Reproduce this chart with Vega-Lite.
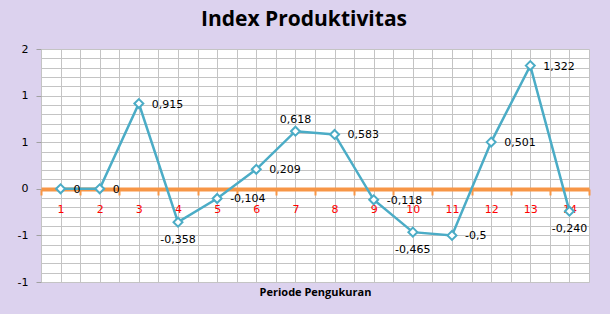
{
  "$schema": "https://vega.github.io/schema/vega-lite/v6.json",
  "width": 548,
  "height": 233,
  "autosize": "none",
  "padding": {"left": 41, "top": 49, "right": 21, "bottom": 32},
  "background": "#DCD2EE",
  "title": {
    "text": "Index Produktivitas",
    "font": "Open Sans",
    "fontSize": 21,
    "fontWeight": "bold",
    "color": "#000000",
    "anchor": "middle",
    "dx": -11,
    "offset": 13
  },
  "config": {
    "view": {"fill": "#FFFFFF", "stroke": null},
    "axis": {"gridColor": "#C4C4C4", "gridWidth": 1, "gridOpacity": 1}
  },
  "data": {
    "values": [
      {"periode": 1, "index": 0, "label": "0"},
      {"periode": 2, "index": 0, "label": "0"},
      {"periode": 3, "index": 0.915, "label": "0,915"},
      {"periode": 4, "index": -0.358, "label": "-0,358"},
      {"periode": 5, "index": -0.104, "label": "-0,104"},
      {"periode": 6, "index": 0.209, "label": "0,209"},
      {"periode": 7, "index": 0.618, "label": "0,618"},
      {"periode": 8, "index": 0.583, "label": "0,583"},
      {"periode": 9, "index": -0.118, "label": "-0,118"},
      {"periode": 10, "index": -0.465, "label": "-0,465"},
      {"periode": 11, "index": -0.5, "label": "-0,5"},
      {"periode": 12, "index": 0.501, "label": "0,501"},
      {"periode": 13, "index": 1.322, "label": "1,322"},
      {"periode": 14, "index": -0.24, "label": "-0,240"}
    ]
  },
  "resolve": {"axis": {"x": "independent", "y": "independent"}},
  "layer": [
    {
      "mark": {"type": "line", "color": "#4BACC6", "strokeWidth": 2.5},
      "encoding": {
        "x": {
          "field": "periode", "type": "quantitative",
          "scale": {"domain": [0.5, 14.5], "nice": false, "zero": false},
          "axis": {
            "orient": "bottom",
            "values": [1,2,3,4,5,6,7,8,9,10,11,12,13,14],
            "offset": -93,
            "grid": true,
            "domain": true, "domainColor": "#F79646", "domainWidth": 4,
            "ticks": false,
            "labelColor": "#FF0000", "labelFont": "DejaVu Sans", "labelFontSize": 11,
            "labelPadding": 14,
            "title": null
          }
        },
        "y": {
          "field": "index", "type": "quantitative",
          "scale": {"domain": [-1, 1.5], "nice": false, "zero": false},
          "axis": {
            "orient": "left",
            "values": [-1,-0.9,-0.8,-0.7,-0.6,-0.5,-0.4,-0.3,-0.2,-0.1,0,0.1,0.2,0.3,0.4,0.5,0.6,0.7,0.8,0.9,1,1.1,1.2,1.3,1.4,1.5],
            "grid": true,
            "domain": false,
            "tickColor": "#A0A0A0",
            "tickSize": 5,
            "tickOpacity": {"condition": {"test": "abs(datum.value*2 - round(datum.value*2)) < 0.001", "value": 1}, "value": 0},
            "labelExpr": "abs(datum.value*2 - round(datum.value*2)) < 0.001 ? (datum.value < -0.001 ? '-' : '') + toString(round(abs(datum.value))) : ''",
            "labelFont": "DejaVu Sans", "labelFontSize": 11, "labelColor": "#000000",
            "labelPadding": 8,
            "title": null
          }
        }
      }
    },
    {
      "mark": {"type": "point", "shape": "diamond", "filled": true, "fill": "#FFFFFF", "stroke": "#4BACC6", "strokeWidth": 2, "size": 80, "opacity": 1},
      "encoding": {
        "x": {
          "field": "periode", "type": "quantitative",
          "axis": {
            "orient": "bottom",
            "values": [0.5,1.5,2.5,3.5,4.5,5.5,6.5,7.5,8.5,9.5,10.5,11.5,12.5,13.5,14.5],
            "offset": -93,
            "grid": true,
            "domain": false,
            "ticks": true, "tickColor": "#F79646", "tickSize": 6, "tickWidth": 2,
            "labels": false,
            "title": null
          }
        },
        "y": {"field": "index", "type": "quantitative", "axis": null}
      }
    },
    {
      "transform": [{"filter": "indexof([4, 10, 14, 7], datum.periode) < 0"}],
      "mark": {"type": "text", "align": "left", "baseline": "middle", "dx": 13, "dy": 1, "font": "DejaVu Sans", "fontSize": 11, "color": "#000000"},
      "encoding": {
        "x": {
          "field": "periode", "type": "quantitative",
          "axis": {
            "orient": "bottom",
            "grid": false, "domain": false, "ticks": false, "labels": false,
            "title": "Periode Pengukuran",
            "titleFont": "Open Sans", "titleFontSize": 11, "titleFontWeight": "bold", "titleColor": "#000000",
            "titlePadding": 4
          }
        },
        "y": {"field": "index", "type": "quantitative", "axis": null},
        "text": {"field": "label"}
      }
    },
    {
      "transform": [{"filter": "indexof([4, 10, 14], datum.periode) >= 0"}],
      "mark": {"type": "text", "align": "center", "baseline": "middle", "dy": 18, "font": "DejaVu Sans", "fontSize": 11, "color": "#000000"},
      "encoding": {
        "x": {"field": "periode", "type": "quantitative", "axis": null},
        "y": {"field": "index", "type": "quantitative", "axis": null},
        "text": {"field": "label"}
      }
    },
    {
      "transform": [{"filter": "datum.periode == 7"}],
      "mark": {"type": "text", "align": "center", "baseline": "middle", "dy": -11, "font": "DejaVu Sans", "fontSize": 11, "color": "#000000"},
      "encoding": {
        "x": {"field": "periode", "type": "quantitative", "axis": null},
        "y": {"field": "index", "type": "quantitative", "axis": null},
        "text": {"field": "label"}
      }
    }
  ]
}
